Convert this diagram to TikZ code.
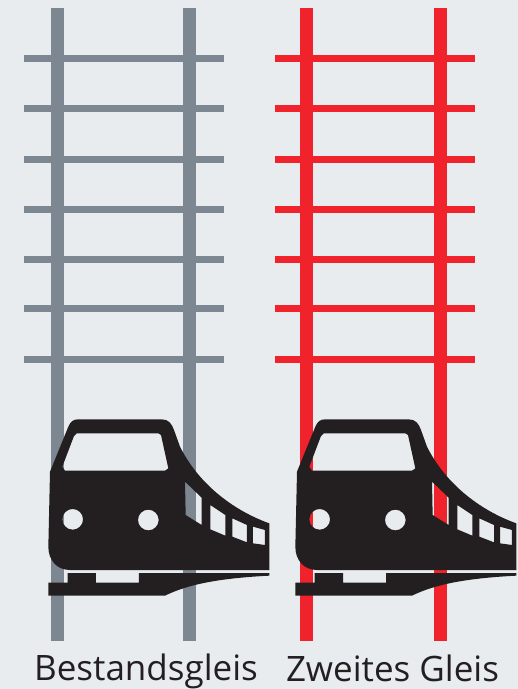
\documentclass[tikz,border=0pt]{standalone}
\usepackage{fontspec}
\setmainfont{Open Sans}
\usetikzlibrary{positioning}
\definecolor{bestand}{HTML}{7D8791}
\definecolor{zweites}{HTML}{F0232D}
\definecolor{ink}{HTML}{231F20}
\definecolor{panel}{HTML}{E8ECEF}
\tikzset{
  rail/.style={line width=13pt},
  sleeper/.style={line width=7pt},
  gleislabel/.style={text=ink,font=\fontsize{35}{35}\selectfont,inner sep=0pt,anchor=base},
  train/.pic={
    % body, the windows are holes through which the rails show
    \fill[ink,even odd rule,scale=1/3]
      (60,215) -- (115,80) .. controls (122,64) and (130,58) .. (145,58)
      -- (395,58) .. controls (415,58) and (425,70) .. (432,90)
      -- (450,140) .. controls (510,260) and (620,335) .. (718,370)
      -- (718,510) -- (120,510) .. controls (80,510) and (55,480) .. (55,440) -- cycle
      (140,100) -- (385,100) -- (393,105) -- (415,205) -- (405,212) -- (105,212)
      -- (97,200) -- (132,108) -- cycle
      (128,358) circle (31)
      (355,360) circle (31)
      (465,245) -- (515,293) -- (515,375) -- (467,345) -- cycle
      (541,315) -- (586,345) -- (586,407) -- (541,388) -- cycle
      (607,355) -- (651,375) -- (651,427) -- (607,410) -- cycle
      (669,380) -- (705,390) -- (705,435) -- (669,430) -- cycle;
    % running gear
    \fill[ink,scale=1/3]
      (55,548) -- (113,548) -- (113,519) -- (198,519) -- (198,548) -- (327,548)
      -- (327,519) -- (718,519) -- (718,527)
      .. controls (560,535) and (470,555) .. (405,587) -- (55,587) -- cycle;
  }
}
\begin{document}
\begin{tikzpicture}[x=1pt,y=-1pt]
  \useasboundingbox[fill=panel] (0,0) rectangle (518,689);
  % left track
  \foreach \y in {58.5,108,159,209,259,308,359}
    \draw[sleeper,bestand] (23.5,\y) -- (223.5,\y);
  \foreach \x in {57.5,189.5}
    \draw[rail,bestand] (\x,8) -- (\x,641);
  % right track
  \foreach \y in {58.5,108,159,209,259,308,359}
    \draw[sleeper,zweites] (275,\y) -- (475,\y);
  \foreach \x in {306.5,440.5}
    \draw[rail,zweites] (\x,8) -- (\x,641);

  \pic at (30,400) {train};
  \pic at (277,400) {train};

  \node[gleislabel] (bestandsgleis) at (146,680) {Bestandsgleis};
  \node[gleislabel] (zweitesgleis) at (392.5,681) {Zweites Gleis};
\end{tikzpicture}
\end{document}
